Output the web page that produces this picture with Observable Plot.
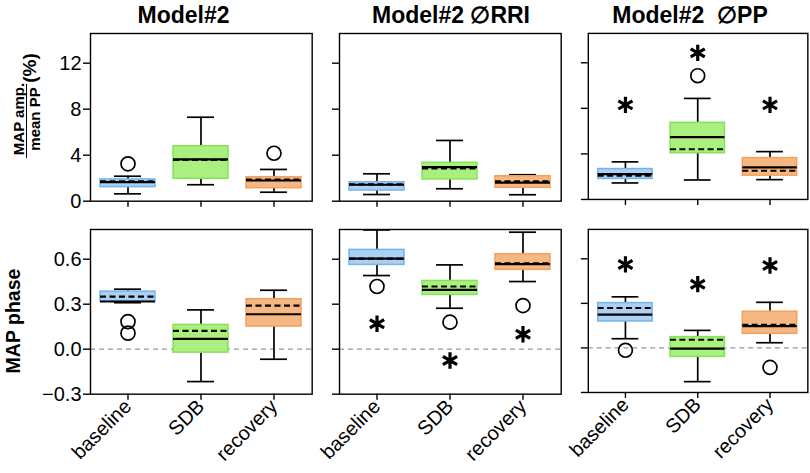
<!DOCTYPE html>
<html><head><meta charset="utf-8">
<script src="https://cdn.jsdelivr.net/npm/d3@7"></script>
<script src="https://cdn.jsdelivr.net/npm/@observablehq/plot@0.6"></script>
<style>
body{margin:0;background:#fff;}
#wrap{position:relative;width:810px;height:473px;overflow:hidden;font-family:"Liberation Sans",Arial,sans-serif;color:#000;}
.title{position:absolute;font-weight:bold;font-size:23px;white-space:pre;transform:translateX(-50%);line-height:1;}
.rot{position:absolute;transform:translate(-50%,-50%) rotate(-90deg);white-space:nowrap;font-weight:bold;line-height:1;}
.svgbox{position:absolute;}
</style></head><body><div id="wrap"></div><script>
const categories = ["baseline", "SDB", "recovery"];
const panelTitles = ["Model#2", "Model#2 \u2205RRI", "Model#2  \u2205PP"];
const ampTicks = [0, 4, 8, 12];
const phaseTicks = [-0.3, 0, 0.3, 0.6];
const boxFills = ["#abd0f2", "#a9f07f", "#f6b883"];
const boxStrokes = ["#74b4ea", "#86e25a", "#f2a05e"];

// each row: [low whisker, Q1, median, mean, Q3, high whisker] for baseline, SDB, recovery
const ampModel2 = [[0.64, 1.22, 1.65, 1.72, 1.89, 2.17], [1.43, 1.95, 3.63, 3.60, 4.78, 7.30], [0.78, 1.13, 1.80, 1.88, 2.09, 2.76]];
const ampNoRRI  = [[0.58, 0.93, 1.43, 1.47, 1.65, 2.38], [1.08, 1.89, 2.96, 2.85, 3.34, 5.28], [0.56, 1.16, 1.62, 1.72, 2.17, 2.30]];
const ampNoPP   = [[1.45, 1.80, 2.23, 2.09, 2.67, 3.30], [1.71, 4.06, 5.48, 4.41, 6.73, 8.87], [1.74, 2.09, 2.82, 2.52, 3.63, 4.20]];
const phaseModel2 = [[0.310, 0.317, 0.318, 0.351, 0.384, 0.400], [-0.216, -0.023, 0.069, 0.122, 0.162, 0.262], [-0.067, 0.151, 0.233, 0.291, 0.333, 0.393]];
const phaseNoRRI  = [[0.491, 0.562, 0.604, 0.604, 0.662, 0.795], [0.273, 0.362, 0.395, 0.418, 0.455, 0.562], [0.451, 0.529, 0.567, 0.572, 0.633, 0.780]];
const phaseNoPP   = [[0.062, 0.178, 0.224, 0.269, 0.302, 0.344], [-0.227, -0.060, -0.005, 0.055, 0.073, 0.118], [0.035, 0.095, 0.147, 0.155, 0.244, 0.307]];

// outliers (open circles) and significance stars: [category, value]
const ampOutModel2 = [["baseline", 3.25], ["recovery", 4.17]];
const ampOutNoRRI = [];
const ampOutNoPP = [["SDB", 10.87]];
const ampStarsModel2 = [];
const ampStarsNoRRI = [];
const ampStarsNoPP = [["baseline", 8.3], ["SDB", 12.87], ["recovery", 8.3]];
const phaseOutModel2 = [["baseline", 0.184], ["baseline", 0.107]];
const phaseOutNoRRI = [["baseline", 0.418], ["SDB", 0.180], ["recovery", 0.291]];
const phaseOutNoPP = [["baseline", -0.016], ["recovery", -0.131]];
const phaseStarsModel2 = [];
const phaseStarsNoRRI = [["baseline", 0.169], ["SDB", -0.076], ["recovery", 0.100]];
const phaseStarsNoPP = [["baseline", 0.562], ["SDB", 0.429], ["recovery", 0.555]];

const wrap = document.getElementById("wrap");
const frameLefts = [90, 339.3, 587.7];
const frameW = 221.7;
const frameTops = [33, 229.3];
const frameHs = [167.7, 164.7];
const yDomains = [[0, 14.58], [-0.3, 0.798]];
const fmt = d3.format(".1f");

function panel(stats, outs, stars, row, col) {
  const rows = categories.map((c, i) => ({
    cat: c, lo: stats[i][0], q1: stats[i][1], med: stats[i][2], mean: stats[i][3], q3: stats[i][4], hi: stats[i][5],
    fill: boxFills[i], stroke: boxStrokes[i]
  }));
  const mL = col === 0 ? 90 : 20, mR = 3, mT = 10, mB = row === 0 ? 15 : 79.7;
  const width = mL + frameW + mR, height = mT + frameHs[row] + mB;
  const marks = [];
  if (row === 1) marks.push(Plot.ruleY([0], {stroke: "#8d9c9c", strokeWidth: 1.3, strokeDasharray: "5,4"}));
  marks.push(
    Plot.ruleX(rows, {x: "cat", y1: "lo", y2: "q1", stroke: "black", strokeWidth: 1.7}),
    Plot.ruleX(rows, {x: "cat", y1: "q3", y2: "hi", stroke: "black", strokeWidth: 1.7}),
    Plot.tickY(rows, {x: "cat", y: "hi", stroke: "black", strokeWidth: 1.7, insetLeft: 14, insetRight: 14}),
    Plot.tickY(rows, {x: "cat", y: "lo", stroke: "black", strokeWidth: 1.7, insetLeft: 14, insetRight: 14}),
    Plot.barY(rows, {x: "cat", y1: "q1", y2: "q3", fill: "fill", stroke: "stroke", strokeWidth: 1.5}),
    Plot.tickY(rows, {x: "cat", y: "med", stroke: "black", strokeWidth: 2.2}),
    Plot.tickY(rows, {x: "cat", y: "mean", stroke: "black", strokeWidth: 2.2, strokeDasharray: "6,3.5"}),
    Plot.dot(outs, {x: d => d[0], y: d => d[1], r: 7, stroke: "black", strokeWidth: 1.7, fill: "none"}),
    Plot.dot(stars, {x: d => d[0], y: d => d[1], symbol: "asterisk", r: 7.8, stroke: "black", strokeWidth: 3.2}),
    Plot.frame({stroke: "black", strokeWidth: 1.4}),
    Plot.axisY({ticks: row === 0 ? ampTicks : phaseTicks, tickSize: 7, tickPadding: 2, fontSize: 20, strokeWidth: 1.4,
      label: null, tickFormat: col === 0 ? (row === 0 ? d => String(d) : fmt) : () => ""}),
    Plot.axisX({tickSize: 6, tickPadding: 3, fontSize: 20, strokeWidth: 1.4, label: null,
      tickRotate: row === 1 ? -45 : 0, tickFormat: row === 1 ? d => d : () => ""})
  );
  const svg = Plot.plot({
    width, height, marginLeft: mL, marginRight: mR, marginTop: mT, marginBottom: mB,
    style: {fontFamily: "'Liberation Sans', Arial, sans-serif", color: "black", background: "transparent", overflow: "visible"},
    color: {type: "identity"},
    x: {type: "band", domain: categories, paddingInner: 0.25, paddingOuter: 0.125},
    y: {domain: yDomains[row]},
    marks
  });
  const box = document.createElement("div");
  box.className = "svgbox";
  box.style.left = (frameLefts[col] - mL) + "px";
  box.style.top = (frameTops[row] - mT) + "px";
  box.appendChild(svg);
  wrap.appendChild(box);
}

panel(ampModel2, ampOutModel2, ampStarsModel2, 0, 0);
panel(ampNoRRI, ampOutNoRRI, ampStarsNoRRI, 0, 1);
panel(ampNoPP, ampOutNoPP, ampStarsNoPP, 0, 2);
panel(phaseModel2, phaseOutModel2, phaseStarsModel2, 1, 0);
panel(phaseNoRRI, phaseOutNoRRI, phaseStarsNoRRI, 1, 1);
panel(phaseNoPP, phaseOutNoPP, phaseStarsNoPP, 1, 2);

// titles
const titleCenters = [183.5, 451, 690];
panelTitles.forEach((t, i) => {
  const d = document.createElement("div");
  d.className = "title";
  d.style.left = titleCenters[i] + "px";
  d.style.top = "4px";
  d.textContent = t;
  wrap.appendChild(d);
});

// y-axis labels
function rotLabel(text, cx, cy, size) {
  const d = document.createElement("div");
  d.className = "rot";
  d.style.left = cx + "px";
  d.style.top = cy + "px";
  d.style.fontSize = size + "px";
  d.textContent = text;
  wrap.appendChild(d);
}
rotLabel("MAP amp.", 18, 119, 15);
rotLabel("mean PP", 34, 119, 15);
rotLabel("(%)", 29, 68, 19);
const bar = document.createElement("div");
bar.style.cssText = "position:absolute;left:25.8px;top:84px;width:1.4px;height:74px;background:#000;";
wrap.appendChild(bar);
rotLabel("MAP phase", 14, 321, 19.5);
</script></body></html>
